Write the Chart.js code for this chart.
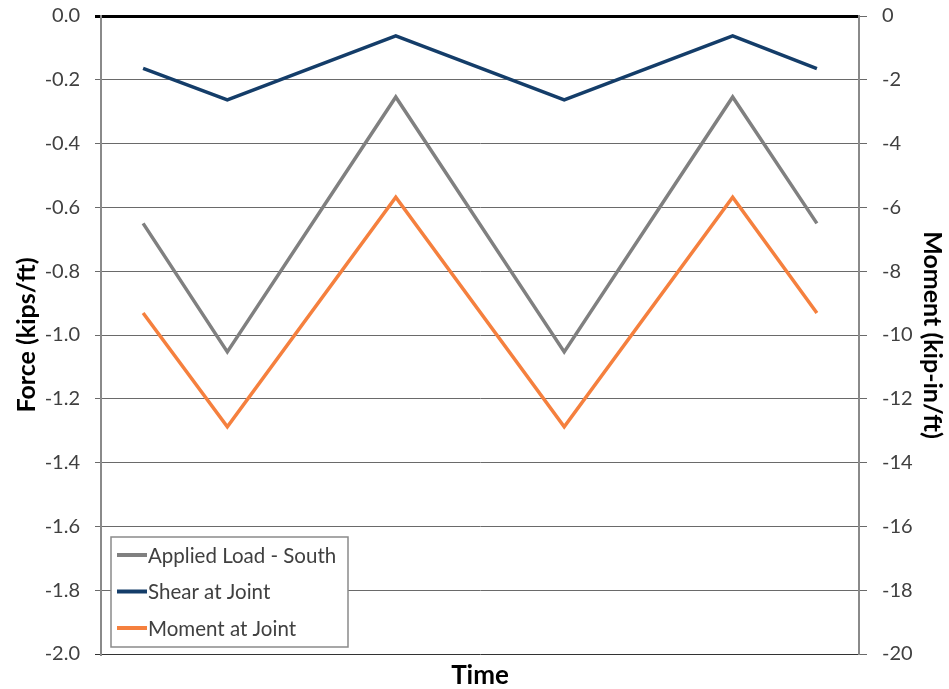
<!DOCTYPE html>
<html><head><meta charset="utf-8">
<script src="https://cdn.jsdelivr.net/npm/chart.js@4.4.1/dist/chart.umd.min.js"></script>
<style>html,body{margin:0;padding:0;background:#fff}canvas{display:block}</style>
</head><body>
<canvas id="c" width="949" height="689"></canvas>
<script>
// ---- data ----
const timePoints = [0.5, 1.5, 3.5, 5.5, 7.5, 8.5];
const appliedLoadSouth = [-0.65, -1.053, -0.254, -1.053, -0.254, -0.65];
const shearAtJoint = [-0.164, -0.263, -0.062, -0.263, -0.062, -0.165];
const momentAtJoint = [-9.31, -12.88, -5.68, -12.88, -5.68, -9.31];
const forceTickValues = [0, -0.2, -0.4, -0.6, -0.8, -1.0, -1.2, -1.4, -1.6, -1.8, -2.0];
const momentTickValues = [0, -2, -4, -6, -8, -10, -12, -14, -16, -18, -20];
const seriesNames = ['Applied Load - South', 'Shear at Joint', 'Moment at Joint'];
const seriesColors = ['#808080', '#143d69', '#f5803e'];

const FONT = 'Lato, "Noto Sans", sans-serif';
const toXY = (vals) => vals.map((v, i) => ({x: timePoints[i], y: v}));

const floatingLegend = {
  id: 'floatingLegend',
  afterDraw(chart) {
    const {ctx, chartArea} = chart;
    const w = 237, h = 110;
    const left = chartArea.left + 10, top = chartArea.bottom - 7 - h;
    ctx.save();
    ctx.fillStyle = '#fff';
    ctx.fillRect(left, top, w, h);
    ctx.strokeStyle = '#8a8a8a';
    ctx.lineWidth = 1.5;
    ctx.strokeRect(left, top, w, h);
    const rows = [18, 54.5, 91];
    ctx.font = '20.5px ' + FONT;
    ctx.textBaseline = 'middle';
    chart.data.datasets.forEach((ds, i) => {
      const yy = top + rows[i];
      ctx.strokeStyle = ds.borderColor;
      ctx.lineWidth = 4;
      ctx.beginPath();
      ctx.moveTo(left + 6, yy);
      ctx.lineTo(left + 36, yy);
      ctx.stroke();
      ctx.fillStyle = '#404040';
      ctx.fillText(ds.label, left + 37, yy + 1);
    });
    ctx.restore();
  }
};

const whiteBg = {
  id: 'whiteBg',
  beforeDraw(chart) {
    const c = chart.ctx;
    c.save(); c.fillStyle = '#fff'; c.fillRect(0, 0, chart.width, chart.height); c.restore();
  }
};

const noVPad = (s) => { s.paddingTop = 0; s.paddingBottom = 0; };

new Chart(document.getElementById('c'), {
  type: 'line',
  data: {
    datasets: [
      {label: seriesNames[0], data: toXY(appliedLoadSouth), yAxisID: 'y', borderColor: seriesColors[0]},
      {label: seriesNames[1], data: toXY(shearAtJoint), yAxisID: 'y', borderColor: seriesColors[1]},
      {label: seriesNames[2], data: toXY(momentAtJoint), yAxisID: 'y1', borderColor: seriesColors[2]}
    ]
  },
  options: {
    responsive: false,
    animation: false,
    layout: {padding: {top: 16, left: 0, right: 0, bottom: 0}},
    elements: {
      line: {borderWidth: 3.5, tension: 0, borderJoinStyle: 'miter', fill: false},
      point: {radius: 0, hoverRadius: 0}
    },
    plugins: {legend: {display: false}, tooltip: {enabled: false}},
    scales: {
      x: {
        type: 'linear', min: 0, max: 9,
        grid: {display: false},
        border: {display: false},
        ticks: {display: false},
        title: {display: true, text: 'Time', color: '#000', font: {family: FONT, size: 26, weight: 'bold'}, padding: {top: 0, bottom: -2}},
        afterFit(s) { s.height = 35; s.paddingLeft = 0; s.paddingRight = 0; }
      },
      y: {
        type: 'linear', position: 'left', min: -2, max: 0,
        afterBuildTicks(s) { s.ticks = forceTickValues.map(v => ({value: v})); },
        ticks: {color: '#404040', font: {family: FONT, size: 20}, padding: 15, callback: v => v.toFixed(1)},
        grid: {
          tickLength: 6,
          color: c => c.tick && c.tick.value === 0 ? '#000' : (c.tick && c.tick.value === -2 ? '#333' : '#6a6a6a'),
          lineWidth: c => c.tick && c.tick.value === 0 ? 3 : 1
        },
        border: {color: '#8a8a8a', width: 2},
        title: {display: true, text: 'Force (kips/ft)', color: '#000', font: {family: FONT, size: 25, weight: 'bold'}, padding: {top: 12, bottom: 0}},
        afterFit(s) { s.width = 101; noVPad(s); }
      },
      y1: {
        type: 'linear', position: 'right', min: -20, max: 0,
        afterBuildTicks(s) { s.ticks = momentTickValues.map(v => ({value: v})); },
        ticks: {color: '#404040', font: {family: FONT, size: 20}, padding: 15, callback: v => String(v)},
        grid: {drawOnChartArea: false, tickLength: 8, color: '#6a6a6a', lineWidth: 1},
        border: {color: '#8a8a8a', width: 2},
        title: {display: true, text: 'Moment (kip-in/ft)', color: '#000', font: {family: FONT, size: 25, weight: 'bold'}, padding: {top: 2, bottom: 0}},
        afterFit(s) { s.width = 90; noVPad(s); }
      }
    }
  },
  plugins: [whiteBg, floatingLegend]
});
</script>
</body></html>
